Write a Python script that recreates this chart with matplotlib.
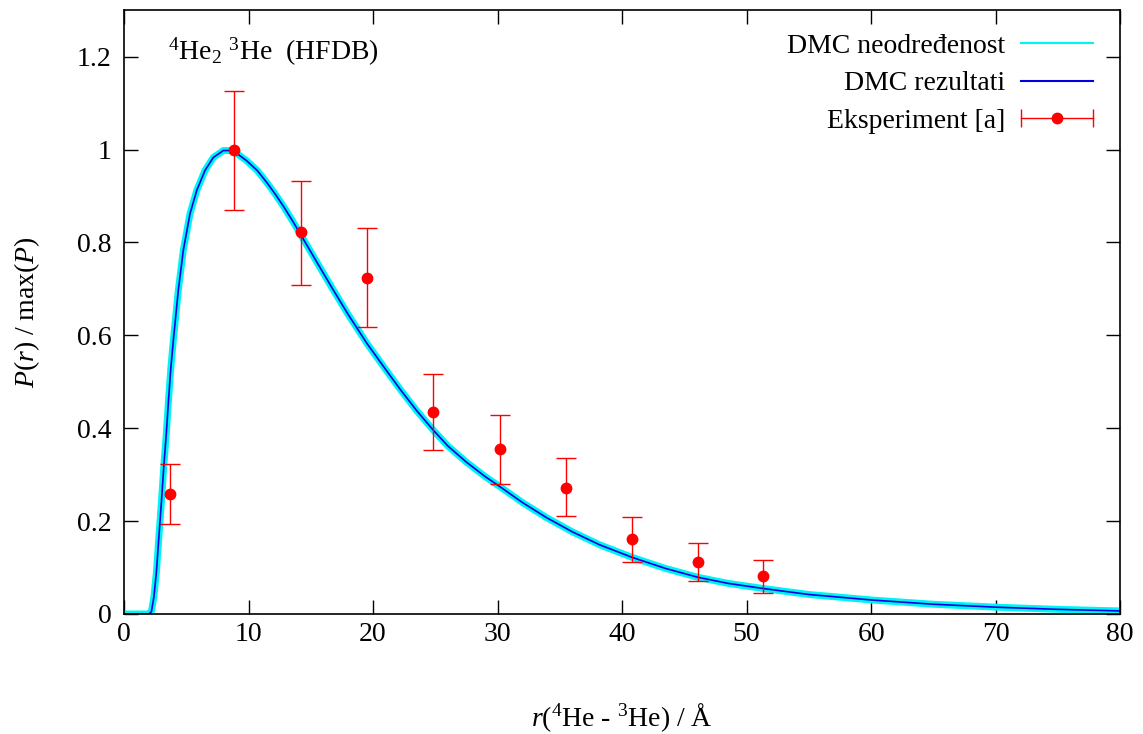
import numpy as np
import matplotlib
matplotlib.use('Agg')
import matplotlib.pyplot as plt
from matplotlib.lines import Line2D
from matplotlib.legend_handler import HandlerLine2D, HandlerTuple

plt.rcParams['font.family'] = ['Liberation Serif', 'DejaVu Serif']
plt.rcParams['mathtext.fontset'] = 'custom'
plt.rcParams['mathtext.rm'] = 'Liberation Serif'
plt.rcParams['mathtext.it'] = 'Liberation Serif:italic'

# DMC distribution P(r)/max(P)
r_dmc = [0.0, 1.5, 2.0, 2.2, 2.4, 2.6, 2.8, 3.0, 3.2, 3.4, 3.56, 3.76, 3.96,
         4.36, 4.76, 5.3, 5.84, 6.5, 7.17, 7.98, 8.5, 9.0, 9.85, 10.7, 11.5,
         12.2, 12.85, 13.5, 14.1, 15.5, 16.8, 18.0, 19.5, 21.0, 22.2, 23.5,
         24.8, 26.0, 27.5, 29.0, 30.2, 32.0, 33.9, 36.0, 38.2, 40.8, 43.5,
         46.1, 48.5, 51.3, 55.0, 60.1, 65.0, 70.1, 75.0, 80.0]
p_dmc = [0.0, 0.0, 0.0, 0.005, 0.037, 0.09, 0.166, 0.24, 0.32, 0.39, 0.455,
         0.53, 0.589, 0.697, 0.783, 0.862, 0.912, 0.955, 0.983, 0.998, 0.998,
         0.993, 0.976, 0.955, 0.928, 0.902, 0.876, 0.848, 0.821, 0.757,
         0.698, 0.645, 0.583, 0.527, 0.483, 0.438, 0.397, 0.362, 0.327,
         0.296, 0.274, 0.240, 0.208, 0.177, 0.149, 0.122, 0.098, 0.079,
         0.066, 0.055, 0.042, 0.030, 0.021, 0.0146, 0.010, 0.0066]

# experiment
r_exp = [3.69, 8.84, 14.2, 19.55, 24.85, 30.2, 35.5, 40.8, 46.1, 51.35]
p_exp = [0.259, 1.0, 0.822, 0.724, 0.434, 0.355, 0.272, 0.161, 0.111, 0.081]
p_exp_hi = [0.324, 1.127, 0.933, 0.831, 0.516, 0.428, 0.335, 0.209, 0.152, 0.116]
p_exp_lo = [0.194, 0.871, 0.708, 0.618, 0.353, 0.280, 0.210, 0.111, 0.071, 0.045]

r_exp = np.array(r_exp)
p_exp = np.array(p_exp)
err = [p_exp - np.array(p_exp_lo), np.array(p_exp_hi) - p_exp]

cyan = '#00f4f4'
blue = '#0000e0'
red = '#ff0000'
fs = 20

fig = plt.figure(figsize=(11.43, 7.34), dpi=100)
ax = fig.add_axes([0.1085, 0.1635, 0.8715, 0.8225])

ax.plot(r_dmc, p_dmc, color=cyan, lw=5, solid_capstyle='butt',
        solid_joinstyle='round')
ax.plot(r_dmc, p_dmc, color=blue, lw=1.2, solid_joinstyle='round')
ax.errorbar(r_exp, p_exp, yerr=err, fmt='o', color=red, ms=7.5,
            elinewidth=1.0, capsize=7, capthick=1.0)

ax.set_xlim(0, 80)
ax.set_ylim(0, 1.3)
ax.set_xticks(np.arange(0, 81, 10))
ax.set_yticks([0, 0.2, 0.4, 0.6, 0.8, 1.0, 1.2])
ax.yaxis.set_major_formatter(plt.FormatStrFormatter('%g'))
ax.tick_params(direction='in', length=10, width=1, top=True, right=True,
               labelsize=fs)
ax.tick_params(axis='y', pad=9)
ax.tick_params(axis='x', pad=6)
for s in ax.spines.values():
    s.set_linewidth(1.2)

ax.set_xlabel(r'$r$($^{4}$He - $^{3}$He) / Å', fontsize=fs, labelpad=39)
ax.set_ylabel(r'$P$($r$) / max($P$)', fontsize=fs, labelpad=25)

ax.text(3.5, 1.21, r'$^{4}$He$_{2}$ $^{3}$He  (HFDB)', fontsize=fs,
        ha='left', va='center')

# legend in gnuplot style: text left, sample right
h_unc = Line2D([], [], color=cyan, lw=1.5)
h_res = Line2D([], [], color=blue, lw=1.5)
h_bar = Line2D([], [], color=red, lw=1.0, marker='|', ms=13, mew=1.0)
h_dot = Line2D([], [], color=red, lw=0, marker='o', ms=7.5)
leg = ax.legend([h_unc, h_res, (h_bar, h_dot)],
                ['DMC neodređenost', 'DMC rezultati', 'Eksperiment [a]'],
                handler_map={h_bar: HandlerLine2D(numpoints=2, marker_pad=0),
                             tuple: HandlerTuple(ndivide=1)},
                loc='upper right', bbox_to_anchor=(0.984, 0.980),
                borderaxespad=0, frameon=False, fontsize=fs,
                markerfirst=False, handlelength=2.6, handletextpad=0.55,
                labelspacing=0.43)

fig.savefig('out.png', dpi=100)
